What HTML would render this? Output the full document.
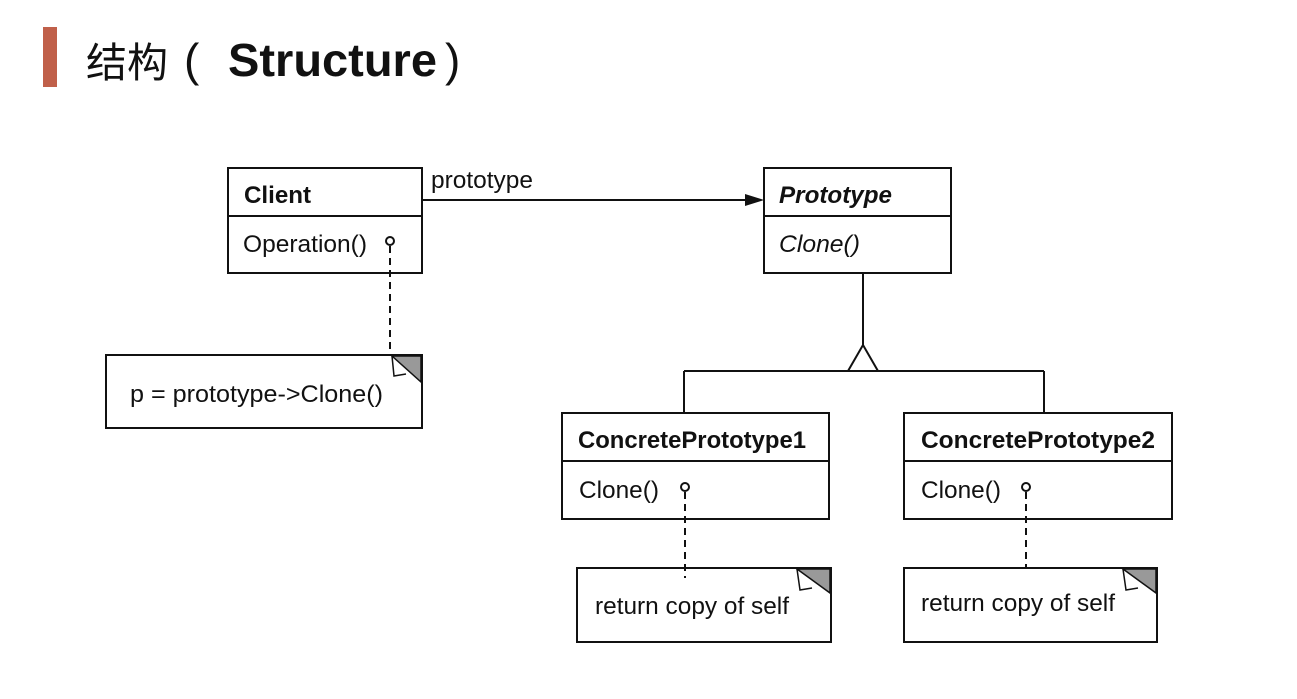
<!DOCTYPE html>
<html><head><meta charset="utf-8"><style>
html,body{margin:0;padding:0;background:#fff;}
svg{display:block;}
text{font-family:"Liberation Sans","Noto Sans CJK SC",sans-serif;fill:#111;}
</style></head><body>
<svg width="1297" height="699" viewBox="0 0 1297 699" xmlns="http://www.w3.org/2000/svg">
<rect x="43" y="27" width="14" height="60" fill="#c0604a"/>
<text x="86" y="77" font-size="41" fill="#111" style="font-family:'Noto Sans CJK SC',sans-serif">结构</text>
<text x="184" y="76" font-size="46">(</text>
<text x="228" y="76" font-size="46" font-weight="bold" textLength="209" lengthAdjust="spacingAndGlyphs">Structure</text>
<text x="445" y="76" font-size="46">)</text>

<g stroke="#111" stroke-width="2" fill="none">
<rect x="228" y="168" width="194" height="105"/>
<line x1="228" y1="216" x2="422" y2="216"/>
<rect x="764" y="168" width="187" height="105"/>
<line x1="764" y1="216" x2="951" y2="216"/>
<line x1="422" y1="200" x2="748" y2="200"/>
<line x1="863" y1="273" x2="863" y2="345"/>
<polygon points="863,345 848,371 878,371" fill="#fff"/>
<line x1="684" y1="371" x2="1044" y2="371"/>
<line x1="684" y1="371" x2="684" y2="413"/>
<line x1="1044" y1="371" x2="1044" y2="413"/>
<rect x="562" y="413" width="267" height="106"/>
<line x1="562" y1="461" x2="829" y2="461"/>
<rect x="904" y="413" width="268" height="106"/>
<line x1="904" y1="461" x2="1172" y2="461"/>
<rect x="106" y="355" width="316" height="73"/>
<rect x="577" y="568" width="254" height="74"/>
<rect x="904" y="568" width="253" height="74"/>
</g>
<polygon points="745,194 764,200 745,206" fill="#111"/>

<g stroke="#111" stroke-width="2" fill="#fff">
<circle cx="390" cy="241" r="4"/>
<circle cx="685" cy="487" r="4"/>
<circle cx="1026" cy="487" r="4"/>
</g>
<g stroke="#111" stroke-width="2" stroke-dasharray="7,5">
<line x1="390" y1="246" x2="390" y2="355"/>
<line x1="685" y1="492" x2="685" y2="578"/>
<line x1="1026" y1="492" x2="1026" y2="568"/>
</g>

<g stroke="#111" stroke-width="1.5">
<polygon points="392,356 421,356 421,382" fill="#999"/>
<polyline points="392,356 394,376 406,374" fill="none"/>
<polygon points="797,569 830,569 830,593" fill="#999"/>
<polyline points="797,569 800,590 812,588" fill="none"/>
<polygon points="1123,569 1156,569 1156,593" fill="#999"/>
<polyline points="1123,569 1126,590 1138,588" fill="none"/>
</g>

<text x="244" y="203" font-size="24" font-weight="bold" textLength="67" lengthAdjust="spacingAndGlyphs">Client</text>
<text x="243" y="252" font-size="24" fill="#333" textLength="124" lengthAdjust="spacingAndGlyphs">Operation()</text>
<text x="431" y="188" font-size="24" textLength="102" lengthAdjust="spacingAndGlyphs">prototype</text>
<text x="779" y="203" font-size="24" font-weight="bold" font-style="italic" textLength="113" lengthAdjust="spacingAndGlyphs">Prototype</text>
<text x="779" y="252" font-size="24" font-style="italic" fill="#333" textLength="81" lengthAdjust="spacingAndGlyphs">Clone()</text>
<text x="130" y="402" font-size="24" fill="#333" textLength="253" lengthAdjust="spacingAndGlyphs">p = prototype-&gt;Clone()</text>
<text x="578" y="448" font-size="24" font-weight="bold" textLength="228" lengthAdjust="spacingAndGlyphs">ConcretePrototype1</text>
<text x="579" y="498" font-size="24" fill="#333" textLength="80" lengthAdjust="spacingAndGlyphs">Clone()</text>
<text x="921" y="448" font-size="24" font-weight="bold" textLength="234" lengthAdjust="spacingAndGlyphs">ConcretePrototype2</text>
<text x="921" y="498" font-size="24" fill="#333" textLength="80" lengthAdjust="spacingAndGlyphs">Clone()</text>
<text x="595" y="614" font-size="24" fill="#333" textLength="194" lengthAdjust="spacingAndGlyphs">return copy of self</text>
<text x="921" y="611" font-size="24" fill="#333" textLength="194" lengthAdjust="spacingAndGlyphs">return copy of self</text>
</svg>
</body></html>
